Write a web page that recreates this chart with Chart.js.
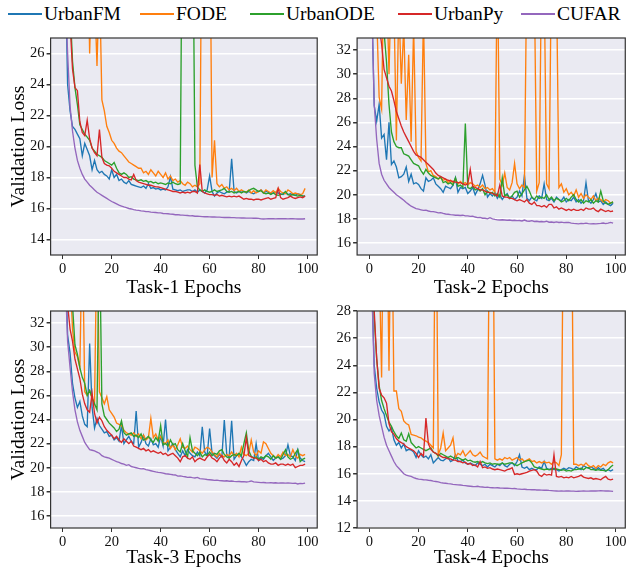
<!DOCTYPE html>
<html>
<head>
<meta charset="utf-8">
<script src="https://cdn.jsdelivr.net/npm/chart.js@4.4.1/dist/chart.umd.min.js"></script>
<style>
  html, body { margin: 0; padding: 0; background: #fff; }
  body { width: 628px; height: 572px; position: relative; overflow: hidden;
         font-family: "Liberation Serif", "Times New Roman", serif; }
  canvas { position: absolute; }
  .leg { position: absolute; top: 3px; height: 22px; display: flex; align-items: center;
         font-size: 19.5px; color: #000; white-space: nowrap; }
  .leg i { display: inline-block; width: 34px; height: 2px; margin-right: 2px; }
</style>
</head>
<body>
<div id="legend"></div>
<canvas id="c1" width="320" height="274" style="left:0;top:26px"></canvas>
<canvas id="c2" width="318" height="274" style="left:310px;top:26px"></canvas>
<canvas id="c3" width="320" height="272" style="left:0;top:300px"></canvas>
<canvas id="c4" width="318" height="272" style="left:310px;top:300px"></canvas>
<script>
const seriesNames = ["UrbanFM", "FODE", "UrbanODE", "UrbanPy", "CUFAR"];
const seriesColors = ["#1f77b4", "#ff7f0e", "#2ca02c", "#d62728", "#9467bd"];
const epochs = Array.from({ length: 100 }, (_, i) => i);
const xTicks = [0, 20, 40, 60, 80, 100];

// ---- Task-1 ----
const t1UrbanFM = [40, 32, 24.0, 22.3, 21.3, 21.1, 20.8, 20.5, 19.4, 20.2,
  19.8, 19.4, 18.5, 19.1, 18.5, 18.3, 18.4, 18.2, 18.1, 17.9,
  18.5, 18.0, 18.2, 17.8, 17.9, 17.7, 17.6, 17.8, 17.55, 17.5,
  17.45, 17.4, 17.35, 17.45, 17.3, 17.6, 17.3, 17.35, 17.25, 17.3,
  17.2, 17.25, 17.2, 17.4, 18.05, 17.25, 17.2, 17.15, 17.2, 17.1,
  17.15, 17.2, 17.2, 17.1, 17.2, 17.05, 17.2, 17.1, 17.0, 17.2,
  18.1, 17.1, 16.8, 17.0, 17.1, 17.0, 16.95, 17.05, 17.1, 19.2,
  17.1, 17.0, 17.1, 17.05, 17.1, 17.0, 17.1, 17.0, 16.95, 17.05,
  17.1, 17.2, 17.0, 17.1, 17.05, 16.95, 17.0, 17.05, 17.0, 16.95,
  16.9, 17.0, 16.9, 16.95, 16.9, 16.85, 16.95, 16.9, 16.8, 16.8];
const t1FODE = [60, 55, 50, 45, 40, 38, 36, 34, 32, 30,
  35, 26.0, 32, 30, 25.2, 31, 23.0, 22.3, 21.3, 20.9,
  20.4, 20.2, 19.9, 19.7, 19.6, 19.4, 19.2, 19.0, 18.9, 18.8,
  18.7, 18.6, 18.6, 18.3, 18.4, 18.2, 18.5, 18.3, 18.1, 18.4,
  18.2, 18.0, 18.3, 17.9, 18.1, 17.8, 17.9, 17.7, 17.8, 17.6,
  17.5, 17.7, 17.6, 17.4, 17.5, 17.4, 17.6, 40, 42, 40,
  38, 18.0, 20.4, 17.6, 17.4, 17.55, 17.3, 17.4, 17.2, 17.3,
  17.15, 17.3, 17.1, 17.2, 17.1, 17.05, 17.2, 17.0, 17.15, 17.0,
  17.1, 17.2, 17.0, 17.2, 17.1, 17.0, 17.15, 17.0, 17.3, 17.1,
  17.0, 16.95, 17.2, 17.1, 16.95, 17.0, 16.95, 16.9, 16.95, 17.3];
const t1UrbanODE = [60, 45, 35, 29, 25.5, 23.8, 22.7, 21.4, 21.1, 20.8,
  20.6, 20.4, 19.9, 19.7, 19.5, 19.4, 19.3, 19.1, 19.0, 18.9,
  18.8, 18.97, 18.6, 18.3, 18.2, 18.3, 18.2, 18.0, 18.05, 17.9,
  17.85, 17.8, 17.85, 17.75, 17.8, 17.7, 17.75, 17.65, 17.7, 17.6,
  17.65, 17.6, 17.55, 17.65, 17.6, 17.7, 17.6, 17.55, 17.6, 40,
  45, 42, 40, 38, 18.8, 17.4, 17.2, 17.1, 17.2, 17.1,
  17.05, 17.1, 17.2, 17.1, 17.15, 17.2, 17.3, 17.1, 17.05, 17.1,
  17.0, 17.05, 17.1, 17.0, 17.1, 17.05, 17.15, 17.25, 17.3, 17.2,
  17.1, 17.15, 17.0, 16.95, 17.0, 16.9, 17.0, 16.9, 16.85, 16.9,
  16.95, 17.1, 16.9, 16.85, 16.9, 16.85, 16.8, 16.85, 16.8, 16.8];
const t1UrbanPy = [60, 45, 35, 28, 25.0, 23.8, 23.6, 21.6, 20.9, 20.7,
  21.7, 20.5, 19.9, 19.6, 19.4, 21.1, 19.3, 18.9, 18.8, 18.75,
  18.6, 18.4, 18.3, 18.2, 18.1, 18.0, 18.0, 17.9, 17.85, 18.2,
  17.8, 17.7, 17.65, 17.6, 17.55, 17.5, 17.5, 17.45, 17.4, 17.4,
  17.35, 17.3, 17.25, 17.2, 17.15, 17.1, 17.1, 17.05, 17.0, 17.05,
  17.0, 17.05, 17.0, 17.1, 17.1, 17.0, 18.84, 17.1, 17.0, 16.95,
  16.9, 16.9, 16.85, 16.9, 16.8, 16.85, 16.8, 16.75, 16.8, 16.75,
  16.8, 16.75, 16.8, 16.7, 16.6, 16.65, 16.6, 16.6, 16.55, 16.6,
  16.6, 16.55, 16.6, 16.65, 16.7, 16.6, 16.65, 16.7, 17.3, 16.7,
  16.6, 16.65, 16.7, 16.8, 16.7, 16.65, 16.7, 16.75, 16.7, 16.8];
const t1CUFAR = [40, 30, 26, 22.6, 21.0, 19.9, 19.1, 18.6, 18.2, 17.9,
  17.7, 17.5, 17.35, 17.2, 17.05, 16.95, 16.85, 16.75, 16.65, 16.55,
  16.45, 16.38, 16.3, 16.22, 16.16, 16.1, 16.05, 16.0, 15.97, 15.93,
  15.9, 15.88, 15.85, 15.83, 15.8, 15.8, 15.77, 15.75, 15.74, 15.72,
  15.72, 15.68, 15.67, 15.66, 15.64, 15.63, 15.6, 15.6, 15.58, 15.57,
  15.56, 15.55, 15.52, 15.53, 15.5, 15.5, 15.49, 15.48, 15.47, 15.47,
  15.46, 15.45, 15.45, 15.44, 15.44, 15.43, 15.42, 15.42, 15.43, 15.41,
  15.41, 15.4, 15.4, 15.39, 15.39, 15.38, 15.38, 15.38, 15.37, 15.37,
  15.36, 15.33, 15.32, 15.33, 15.35, 15.34, 15.34, 15.33, 15.35, 15.34,
  15.34, 15.34, 15.33, 15.35, 15.34, 15.33, 15.32, 15.33, 15.32, 15.34];

// ---- Task-2 ----
const t2UrbanFM = [50, 36, 27.4, 26.1, 27.5, 24.7, 25.0, 22.9, 26.0, 22.5,
  22.8, 22.3, 21.4, 21.5, 21.7, 22.3, 21.1, 21.7, 20.9, 21.0,
  20.85, 20.5, 20.3, 21.4, 21.1, 21.2, 21.4, 20.9, 20.7, 20.5,
  20.2, 20.7, 20.6, 20.5, 20.8, 21.4, 20.2, 20.6, 20.5, 20.6,
  20.1, 20.3, 20.6, 20.0, 20.4, 20.9, 21.6, 20.8, 19.8, 20.1,
  19.9, 20.2, 19.7, 20.0, 19.6, 19.9, 20.1, 19.7, 19.9, 19.6,
  19.8, 20.3, 19.9, 21.6, 19.7, 19.5, 19.8, 19.6, 19.5, 19.9,
  19.7, 20.9, 19.6, 19.5, 19.7, 19.4, 19.8, 19.6, 19.5, 19.8,
  19.4, 19.6, 19.5, 19.8, 19.4, 19.6, 19.3, 19.5, 21.0, 19.5,
  19.3, 19.6, 20.1, 19.4, 19.5, 19.2, 19.4, 19.2, 19.1, 19.3];
const t2FODE = [60, 50, 40, 35, 28.1, 27.1, 40, 38, 30.0, 38,
  36, 24.5, 36, 29.2, 34, 26.2, 31.6, 24.4, 34, 23.6,
  23.1, 22.8, 35, 22.6, 21.9, 22.0, 21.6, 21.5, 21.3, 21.4,
  21.2, 21.3, 21.0, 21.2, 21.0, 21.3, 20.9, 21.1, 20.9, 21.0,
  20.8, 21.0, 20.9, 20.7, 20.8, 20.6, 20.8, 20.5, 20.6, 20.4,
  20.5, 20.2, 40, 21.3, 20.8, 21.8, 20.6, 20.4, 21.0, 22.6,
  20.9, 20.5, 20.8, 20.6, 40, 45, 42, 38, 20.3, 21.0,
  40, 38, 20.9, 20.5, 40, 42, 38, 20.6, 20.9, 20.2,
  20.5, 20.0, 20.2, 19.9, 20.4, 19.8, 20.1, 19.7, 20.0, 19.8,
  19.6, 19.9, 19.5, 19.7, 19.6, 19.4, 19.6, 19.5, 19.3, 19.4];
const t2UrbanODE = [60, 50, 42, 38, 36, 34.5, 33.5, 31.0, 27.5, 25.2,
  24.4, 24.0, 23.9, 23.9, 23.4, 23.3, 23.2, 22.9, 22.6, 22.5,
  22.4, 22.0, 21.7, 22.1, 21.8, 21.6, 21.5, 21.4, 21.3, 21.5,
  21.0, 21.1, 20.9, 21.0, 20.8, 21.4, 20.7, 20.8, 20.6, 25.9,
  20.6, 20.5, 20.7, 20.4, 20.5, 20.3, 20.5, 20.0, 20.3, 20.1,
  20.2, 19.9, 20.1, 19.8, 21.4, 19.9, 20.0, 19.7, 19.9, 20.2,
  20.3, 19.8, 20.1, 20.4, 20.7, 20.3, 19.8, 19.6, 19.9, 19.7,
  19.8, 19.7, 20.0, 19.6, 19.8, 19.5, 19.7, 19.6, 19.4, 19.5,
  19.7, 19.5, 19.8, 20.0, 19.6, 19.4, 19.6, 19.3, 19.5, 19.4,
  19.6, 19.3, 19.5, 19.4, 20.3, 19.5, 19.3, 19.2, 19.3, 19.4];
const t2UrbanPy = [60, 50, 42, 37, 34, 32.5, 30.4, 29.7, 29.0, 28.6,
  27.8, 26.9, 26.3, 25.7, 25.2, 24.8, 24.4, 24.0, 23.6, 23.3,
  23.2, 23.1, 22.9, 22.7, 22.5, 22.3, 22.1, 21.8, 21.6, 21.5,
  21.4, 21.3, 21.2, 21.15, 21.1, 21.05, 21.0, 21.0, 20.9, 20.8,
  20.9, 22.1, 20.7, 20.6, 20.5, 20.4, 20.4, 20.3, 20.2, 20.2,
  20.1, 20.0, 19.9, 20.8, 19.9, 19.8, 19.8, 19.7, 19.7, 19.6,
  19.5, 19.6, 19.5, 19.4, 19.6, 19.3, 19.2, 19.4, 19.1, 19.1,
  19.0, 19.1, 18.95, 19.2, 19.2, 18.9, 19.0, 18.8, 18.9, 18.8,
  18.7, 18.8, 18.7, 18.8, 18.7, 18.7, 18.8, 18.7, 18.9, 18.8,
  18.8, 18.9, 18.7, 18.6, 18.8, 18.7, 18.6, 18.7, 18.6, 18.65];
const t2CUFAR = [45, 36, 27.5, 24.6, 22.6, 21.7, 21.2, 20.9, 20.6, 20.4,
  20.2, 20.0, 19.85, 19.7, 19.55, 19.35, 19.2, 19.05, 18.95, 18.85,
  18.8, 18.75, 18.7, 18.72, 18.65, 18.6, 18.6, 18.55, 18.5, 18.52,
  18.45, 18.4, 18.38, 18.35, 18.33, 18.3, 18.3, 18.28, 18.3, 18.25,
  18.25, 18.2, 18.22, 18.15, 18.1, 18.12, 18.05, 18.05, 18.0, 18.1,
  18.0, 17.95, 17.92, 17.9, 17.92, 17.9, 17.88, 17.9, 17.86, 17.88,
  17.85, 17.86, 17.82, 17.9, 17.82, 17.8, 17.85, 17.78, 17.8, 17.76,
  17.78, 17.75, 17.8, 17.72, 17.74, 17.7, 17.75, 17.7, 17.72, 17.68,
  17.7, 17.7, 17.65, 17.62, 17.6, 17.58, 17.62, 17.6, 17.64, 17.6,
  17.58, 17.6, 17.58, 17.6, 17.62, 17.65, 17.6, 17.64, 17.7, 17.65];

// ---- Task-3 ----
const t3UrbanFM = [50, 38, 31.0, 29.5, 27.0, 25.8, 25.0, 25.5, 24.3, 23.6,
  23.4, 30.3, 25.0, 23.3, 24.1, 23.5, 23.2, 22.9, 23.0, 22.6,
  22.7, 22.3, 22.5, 22.2, 23.5, 22.0, 22.3, 22.6, 22.2, 22.0,
  24.7, 21.7, 22.1, 22.7, 22.0, 21.8, 22.4, 21.9, 22.0, 21.7,
  22.6, 21.8, 24.0, 21.4, 21.7, 22.0, 21.5, 21.2, 20.9, 21.4,
  21.0, 21.5, 21.2, 21.0, 20.9, 21.3, 21.0, 23.4, 21.3, 21.0,
  23.25, 21.2, 21.0, 20.8, 21.1, 20.9, 23.95, 21.1, 20.9, 23.9,
  20.7, 21.0, 21.1, 20.9, 20.6, 20.2, 20.5, 20.7, 20.6, 22.0,
  20.6, 20.8, 20.7, 21.0, 21.2, 20.9, 20.6, 20.8, 20.9, 20.7,
  20.8, 21.0, 21.9, 21.0, 20.9, 20.6, 21.5, 20.8, 20.6, 20.5];
const t3FODE = [60, 50, 42, 36, 31.5, 29.6, 29.2, 28.3, 40, 26.3,
  26.0, 26.4, 25.7, 25.3, 40, 26.3, 25.8, 25.3, 25.9, 24.8,
  24.5, 24.2, 23.7, 23.6, 23.5, 23.1, 22.9, 22.8, 22.7, 22.9,
  22.6, 22.8, 22.4, 22.7, 22.3, 22.5, 24.1, 22.5, 22.8, 22.3,
  22.6, 22.1, 22.0, 22.3, 21.6, 21.9, 21.5, 21.9, 22.4, 21.7,
  21.6, 21.8, 21.5, 21.3, 21.7, 21.6, 21.4, 21.2, 21.5, 21.7,
  21.6, 21.3, 21.1, 20.9, 21.2, 21.0, 20.9, 21.1, 21.0, 21.3,
  21.0, 21.2, 20.9, 21.7, 21.1, 21.0, 21.2, 22.3, 21.3, 21.0,
  21.4, 21.2, 22.15, 22.0, 21.6, 21.2, 21.0, 20.8, 21.1, 20.9,
  21.3, 21.0, 21.1, 20.9, 21.5, 21.0, 20.8, 21.1, 21.0, 21.1];
const t3UrbanODE = [60, 50, 42, 36, 33.5, 30.2, 29.4, 28.3, 27.5, 27.0,
  26.0, 26.4, 25.8, 25.3, 24.8, 40, 25.3, 24.3, 24.0, 23.7,
  23.5, 23.3, 23.0, 23.2, 23.9, 22.9, 22.7, 22.8, 22.9, 22.6,
  22.7, 22.5, 22.8, 22.3, 22.4, 22.6, 22.3, 22.1, 22.5, 22.2,
  23.5, 21.9, 22.0, 21.8, 22.3, 21.9, 22.0, 21.5, 21.3, 22.0,
  21.4, 20.9, 22.5, 21.4, 21.2, 21.0, 21.3, 20.9, 21.1, 21.0,
  21.3, 21.0, 21.2, 21.1, 21.4, 21.5, 21.1, 20.9, 20.8, 21.0,
  21.1, 21.0, 21.2, 21.0, 22.0, 22.9, 21.4, 20.95, 20.8, 20.9,
  20.7, 20.9, 20.8, 21.0, 20.9, 20.7, 21.0, 20.8, 20.9, 20.7,
  21.1, 21.5, 20.9, 20.7, 20.8, 21.2, 21.5, 20.5, 20.7, 20.8];
const t3UrbanPy = [60, 45, 33.5, 31.5, 30.5, 29.0, 28.2, 27.4, 26.1, 25.3,
  24.8, 24.6, 26.2, 24.5, 23.7, 24.2, 23.9, 23.4, 23.1, 22.9,
  22.7, 22.4, 22.6, 22.3, 22.1, 22.4, 22.2, 22.0, 22.2, 21.8,
  21.7, 21.6, 21.5, 21.6, 21.4, 21.5, 21.3, 21.4, 21.3, 21.2,
  21.3, 21.1, 21.2, 21.0, 21.1, 21.2, 21.0, 20.8, 20.5, 20.9,
  21.0, 20.8, 20.7, 20.9, 20.5, 20.7, 20.8, 20.7, 20.6, 20.9,
  21.1, 20.8, 20.7, 20.5, 20.8, 21.0, 20.6, 20.4, 20.7, 20.5,
  20.2, 20.4, 20.1, 20.6, 21.0, 22.5, 21.0, 20.9, 20.8, 20.8,
  20.6, 20.7, 20.5, 20.6, 20.4, 20.3, 20.3, 20.4, 20.2, 20.3,
  20.3, 20.2, 20.3, 20.2, 20.3, 20.0, 20.1, 20.2, 20.2, 20.3];
const t3CUFAR = [50, 36, 30.5, 28.3, 26.3, 24.8, 23.8, 23.1, 22.6, 22.1,
  21.8, 21.5, 21.45, 21.4, 21.3, 21.2, 21.0, 20.9, 20.85, 20.8,
  20.7, 20.6, 20.5, 20.45, 20.35, 20.3, 20.2, 20.25, 20.1, 20.05,
  20.0, 19.95, 19.9, 19.92, 19.85, 19.8, 19.75, 19.7, 19.65, 19.62,
  19.6, 19.55, 19.5, 19.48, 19.45, 19.42, 19.4, 19.3, 19.32, 19.28,
  19.25, 19.2, 19.22, 19.18, 19.15, 19.2, 19.1, 19.08, 19.05, 19.02,
  19.0, 18.98, 18.95, 18.97, 18.93, 18.92, 18.9, 18.92, 18.88, 18.9,
  18.87, 18.85, 18.86, 18.84, 18.85, 18.82, 18.85, 18.9, 18.82, 18.8,
  18.78, 18.76, 18.77, 18.75, 18.74, 18.76, 18.73, 18.75, 18.72, 18.74,
  18.73, 18.72, 18.74, 18.72, 18.7, 18.72, 18.65, 18.7, 18.68, 18.72];

// ---- Task-4 ----
const t4UrbanFM = [45, 30, 24.0, 22.3, 21.3, 20.7, 20.4, 19.5, 19.15, 19.4,
  18.5, 18.1, 18.3, 17.9, 18.2, 17.7, 17.8, 17.75, 17.6, 17.2,
  17.7, 17.4, 17.2, 17.3, 17.1, 17.4, 16.8, 17.0, 17.2, 17.0,
  16.95, 17.1, 17.2, 16.9, 17.0, 17.4, 16.95, 16.9, 17.0, 16.8,
  16.7, 16.8, 16.7, 16.6, 16.8, 16.7, 16.6, 16.7, 16.5, 16.7,
  16.6, 16.5, 16.7, 16.6, 16.8, 16.6, 16.5, 16.7, 16.8, 16.6,
  16.9, 17.4, 16.5, 16.4, 16.5, 16.3, 16.4, 16.3, 16.3, 16.5,
  16.4, 16.9, 16.4, 16.3, 16.4, 16.3, 16.3, 16.2, 16.3, 16.4,
  16.3, 16.45, 16.4, 16.3, 16.5, 16.4, 16.3, 16.6, 16.5, 16.4,
  16.5, 16.4, 16.3, 16.45, 16.3, 16.4, 16.2, 16.3, 16.2, 16.3];
const t4FODE = [60, 50, 42, 36, 32, 23.1, 40, 38, 23.6, 38,
  22.1, 22.1, 20.8, 20.6, 19.9, 19.7, 19.6, 18.9, 18.85, 18.8,
  18.7, 18.65, 18.5, 18.4, 18.3, 18.1, 17.9, 40, 17.4, 17.9,
  19.0, 17.7, 17.9, 18.1, 18.65, 17.2, 17.5, 17.4, 17.7, 17.3,
  17.5, 17.7, 17.4, 17.3, 17.4, 17.6, 17.3, 17.2, 17.1, 40,
  42, 17.1, 17.0, 17.1, 17.0, 17.2, 17.1, 17.2, 17.0, 17.1,
  17.2, 17.0, 17.1, 16.9, 17.0, 17.1, 16.9, 16.95, 16.8, 16.9,
  16.8, 16.9, 16.8, 16.85, 16.7, 16.9, 16.8, 16.6, 17.4, 40,
  45, 42, 40, 16.7, 16.7, 16.6, 16.7, 16.6, 16.8, 16.6,
  16.5, 16.6, 16.4, 16.6, 16.5, 16.7, 16.6, 16.8, 16.9, 16.8];
const t4UrbanODE = [50, 35, 27.5, 24.5, 22.5, 21.4, 20.8, 20.3, 19.8, 19.5,
  19.1, 18.8, 18.6, 19.0, 18.5, 18.4, 18.95, 18.3, 18.1, 17.9,
  18.0, 17.9, 17.8, 17.7, 17.8, 17.9, 17.6, 17.5, 17.3, 17.5,
  17.4, 17.3, 17.2, 17.3, 17.2, 17.1, 17.2, 17.1, 17.0, 17.1,
  16.95, 17.0, 16.9, 16.85, 16.9, 16.8, 16.9, 16.8, 16.75, 16.8,
  16.7, 16.75, 16.7, 16.7, 16.8, 16.7, 16.75, 16.8, 16.8, 16.7,
  16.6, 16.7, 16.8, 16.9, 16.95, 17.0, 16.8, 16.5, 16.45, 16.4,
  16.35, 16.3, 16.35, 16.3, 16.3, 16.4, 16.35, 16.3, 16.25, 16.3,
  16.2, 16.25, 16.2, 16.3, 16.3, 16.35, 16.4, 16.3, 16.45, 16.45,
  16.3, 16.3, 16.25, 16.3, 16.25, 16.25, 16.2, 16.3, 16.5, 16.65];
const t4UrbanPy = [50, 35, 28, 24.5, 22.3, 21.8, 21.6, 21.2, 19.7, 19.1,
  18.9, 18.6, 18.4, 18.3, 18.2, 18.0, 17.9, 17.8, 17.7, 17.5,
  17.2, 17.5, 17.3, 20.1, 18.2, 17.8, 17.6, 17.5, 17.4, 17.3,
  17.2, 17.2, 17.1, 17.1, 17.0, 17.0, 16.9, 16.9, 16.8, 16.85,
  16.7, 16.75, 16.6, 16.65, 16.5, 16.9, 16.45, 16.5, 16.4, 16.45,
  16.35, 16.3, 16.35, 16.3, 16.25, 16.2, 16.3, 16.35, 16.45, 15.95,
  16.0, 15.95, 16.0, 16.05, 16.1, 16.2, 16.25, 16.3, 16.2, 15.9,
  15.8, 16.0, 15.9, 15.95, 15.9, 17.4, 15.8, 15.75, 15.8, 15.7,
  15.75, 15.7, 15.8, 15.7, 15.75, 15.8, 15.9, 15.75, 15.7, 15.65,
  15.7, 15.6, 15.65, 15.6, 15.55, 15.7, 15.8, 15.6, 15.55, 15.6];
const t4CUFAR = [45, 30, 23.4, 21.4, 20.3, 19.5, 18.7, 18.1, 17.7, 17.3,
  16.9, 16.6, 16.4, 16.2, 16.0, 15.9, 15.85, 15.8, 15.72, 15.65,
  15.6, 15.58, 15.56, 15.55, 15.52, 15.5, 15.46, 15.43, 15.4, 15.35,
  15.32, 15.3, 15.27, 15.25, 15.22, 15.2, 15.18, 15.17, 15.14, 15.12,
  15.1, 15.08, 15.06, 15.05, 15.08, 15.03, 15.02, 15.0, 15.01, 14.98,
  14.97, 14.96, 14.97, 14.95, 14.94, 14.93, 14.94, 14.92, 14.9, 14.91,
  14.88, 14.87, 14.85, 14.86, 14.84, 14.83, 14.82, 14.83, 14.8, 14.8,
  14.79, 14.78, 14.79, 14.77, 14.76, 14.74, 14.73, 14.72, 14.73, 14.72,
  14.73, 14.74, 14.72, 14.72, 14.7, 14.71, 14.72, 14.73, 14.72, 14.72,
  14.73, 14.74, 14.73, 14.74, 14.75, 14.74, 14.73, 14.74, 14.72, 14.7];

const yTicks1 = [14, 16, 18, 20, 22, 24, 26];
const yTicks2 = [16, 18, 20, 22, 24, 26, 28, 30, 32];
const yTicks3 = [16, 18, 20, 22, 24, 26, 28, 30, 32];
const yTicks4 = [12, 14, 16, 18, 20, 22, 24, 26, 28];

Chart.defaults.font.family = "'Liberation Serif', 'Times New Roman', serif";
Chart.defaults.color = "#111";

// legend row (shared by all four panels)
const legendLeft = [8, 140, 250, 398, 521];
const legendBox = document.getElementById("legend");
seriesNames.forEach((name, i) => {
  const d = document.createElement("div");
  d.className = "leg";
  d.style.left = legendLeft[i] + "px";
  d.innerHTML = '<i style="background:' + seriesColors[i] + '"></i>' + name;
  legendBox.appendChild(d);
});

// grey panel + dark frame like the seaborn style
const panelPlugin = {
  id: "panel",
  beforeDraw(chart) {
    const { ctx, chartArea: a } = chart;
    ctx.save();
    ctx.fillStyle = "#EAEAF2";
    ctx.fillRect(a.left, a.top, a.width, a.height);
    ctx.restore();
  },
  afterDraw(chart) {
    const { ctx, chartArea: a } = chart;
    ctx.save();
    ctx.strokeStyle = "#333";
    ctx.lineWidth = 1.2;
    ctx.strokeRect(a.left, a.top, a.width, a.height);
    ctx.restore();
  }
};

function makeChart(id, series, yMin, yMax, yTicks, xTitle, yTitle, yWidth, padTop, padRight, xHeight, xTitlePad) {
  const datasets = series.map((vals, i) => ({
    label: seriesNames[i],
    data: epochs.map((e, k) => ({ x: e, y: vals[k] })),
    borderColor: seriesColors[i],
    borderWidth: 1.35,
    pointRadius: 0,
    tension: 0,
    fill: false,
    order: series.length - i
  }));
  return new Chart(document.getElementById(id), {
    type: "line",
    data: { datasets },
    plugins: [panelPlugin],
    options: {
      responsive: false,
      animation: false,
      devicePixelRatio: 1,
      layout: { padding: { top: padTop, right: padRight, left: 0, bottom: 0 } },
      plugins: { legend: { display: false }, tooltip: { enabled: false } },
      scales: {
        x: {
          type: "linear",
          min: -4.95,
          max: 103.95,
          afterFit: (s) => { s.height = xHeight; },
          afterBuildTicks: (s) => { s.ticks = xTicks.map((v) => ({ value: v })); },
          border: { display: false },
          grid: { drawOnChartArea: false, tickColor: "#333", tickLength: 4 },
          ticks: { font: { size: 14.5 }, padding: 1.5, maxRotation: 0 },
          title: { display: true, text: xTitle, font: { size: 19.5 }, color: "#000", padding: { top: 0, bottom: xTitlePad } }
        },
        y: {
          min: yMin,
          max: yMax,
          afterFit: (s) => { s.width = yWidth; },
          afterBuildTicks: (s) => { s.ticks = yTicks.map((v) => ({ value: v })); },
          border: { display: false },
          grid: { color: "#ffffff", lineWidth: 1.5, tickColor: "#333", tickLength: 4 },
          ticks: { font: { size: 14.5 }, padding: 2 },
          title: { display: !!yTitle, text: yTitle, font: { size: 19.5 }, color: "#000", padding: { top: 7, bottom: 0 } }
        }
      }
    }
  });
}

makeChart("c1", [t1UrbanFM, t1FODE, t1UrbanODE, t1UrbanPy, t1CUFAR], 13, 27, yTicks1,
  "Task-1 Epochs", "Validation Loss", 50.6, 12, 2.3, 45, 0.5);
makeChart("c2", [t2UrbanFM, t2FODE, t2UrbanODE, t2UrbanPy, t2CUFAR], 15, 33, yTicks2,
  "Task-2 Epochs", "", 47.1, 12, 2.2, 45, 0.5);
makeChart("c3", [t3UrbanFM, t3FODE, t3UrbanODE, t3UrbanPy, t3CUFAR], 15, 33, yTicks3,
  "Task-3 Epochs", "Validation Loss", 50.6, 11, 2.3, 44, 2);
makeChart("c4", [t4UrbanFM, t4FODE, t4UrbanODE, t4UrbanPy, t4CUFAR], 12, 28, yTicks4,
  "Task-4 Epochs", "", 47.1, 11, 2.2, 44, 2);
</script>
</body>
</html>
